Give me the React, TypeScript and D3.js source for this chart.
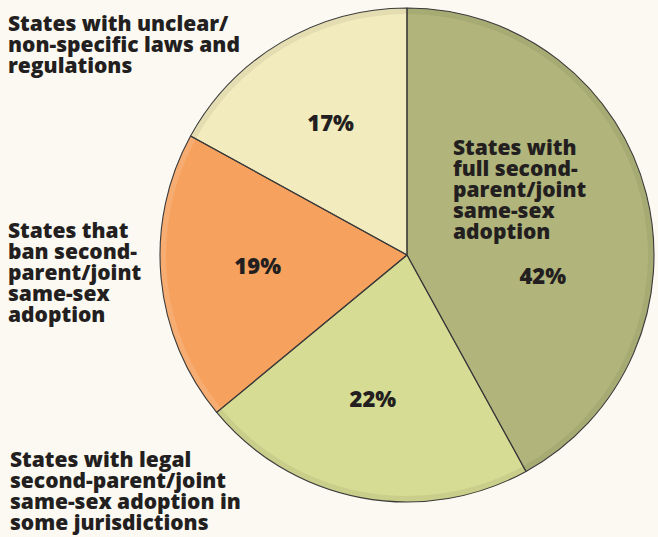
import React from "react";
import * as d3 from "d3";

const categories = [
  "States with full second-parent/joint same-sex adoption",
  "States with legal second-parent/joint same-sex adoption in some jurisdictions",
  "States that ban second-parent/joint same-sex adoption",
  "States with unclear/non-specific laws and regulations",
];
const values = [42, 22, 19, 17];
const percentLabels = ["42%", "22%", "19%", "17%"];
const colors = ["#b1b57b", "#d6dc93", "#f6a15e", "#f2ebbd"];

const labelLines = [
  ["States with", "full second-", "parent/joint", "same-sex", "adoption"],
  ["States with legal", "second-parent/joint", "same-sex adoption in", "some jurisdictions"],
  ["States that", "ban second-", "parent/joint", "same-sex", "adoption"],
  ["States with unclear/", "non-specific laws and", "regulations"],
];

const W = 658;
const H = 537;
const cx = 407;
const cy = 255;
const R = 247;
const FONT = "'Open Sans', 'Noto Sans', sans-serif";
const TEXT = "#231f20";

const labelPos: [number, number][] = [
  [453, 155],
  [10, 467],
  [8, 238],
  [8, 31],
];

export default function App() {
  const pie = d3.pie<number>().sort(null).value((d) => d)(values);
  const arc = d3.arc<d3.PieArcDatum<number>>().innerRadius(0).outerRadius(R);
  const rimArc = d3.arc<d3.PieArcDatum<number>>().innerRadius(R - 6).outerRadius(R);
  const labelArc = d3.arc<d3.PieArcDatum<number>>().innerRadius(150).outerRadius(150);

  return (
    <div style={{ position: "fixed", left: 0, top: 0, width: W, height: H }}>
      <svg width={W} height={H} style={{ display: "block", background: "#fcf9f2" }}>
        <g transform={`translate(${cx},${cy})`}>
          {pie.map((p, i) => (
            <path key={"s" + i} d={arc(p) || ""} fill={colors[i]} />
          ))}
          {pie.map((p, i) => (
            <path
              key={"r" + i}
              d={rimArc(p) || ""}
              fill={i === 2 ? "#ffffff" : "#000000"}
              opacity={i === 2 ? 0.12 : 0.06}
            />
          ))}
          {pie.map((p, i) => (
            <path
              key={"o" + i}
              d={arc(p) || ""}
              fill="none"
              stroke="#3a3a3a"
              strokeWidth={1.1}
              strokeLinejoin="round"
            />
          ))}
          {pie.map((p, i) => {
            let [x, y] = labelArc.centroid(p);
            if (i === 0) {
              const a = (p.startAngle + p.endAngle) / 2 + 0.43;
              x = 138 * Math.sin(a);
              y = -138 * Math.cos(a);
            }
            if (i === 1) x -= 6;
            return (
              <text
                key={"p" + i}
                x={x}
                y={y - 3}
                dy="0.35em"
                textAnchor="middle"
                fontFamily={FONT}
                fontWeight={800}
                fontSize={22}
                fill={TEXT}
              >
                {percentLabels[i]}
              </text>
            );
          })}
        </g>
        {labelLines.map((lines, i) => (
          <text
            key={"l" + i}
            x={labelPos[i][0]}
            y={labelPos[i][1]}
            fontFamily={FONT}
            fontWeight={800}
            fontSize={21}
            fill={TEXT}
          >
            {lines.map((ln, j) => (
              <tspan key={j} x={labelPos[i][0]} y={labelPos[i][1] + j * 21}>
                {ln}
              </tspan>
            ))}
          </text>
        ))}
      </svg>
    </div>
  );
}
